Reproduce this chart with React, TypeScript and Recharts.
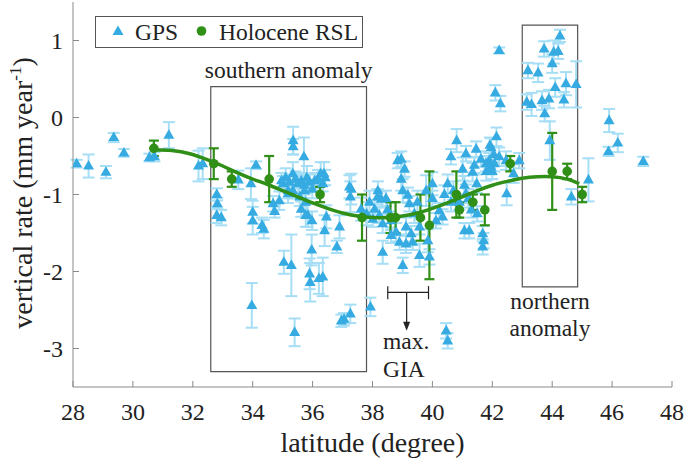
import React from 'react'
import {
  ComposedChart,
  ErrorBar,
  Legend,
  Line,
  ReferenceArea,
  ReferenceDot,
  ReferenceLine,
  Scatter,
  XAxis,
  YAxis
} from 'recharts'

const latitudeTicks = [28, 30, 32, 34, 36, 38, 40, 42, 44, 46, 48]
const rateTicks = [-3, -2, -1, 0, 1]

// GPS stations: [latitude, vertical rate, uncertainty]
const gpsWest = [
  [28.12, -0.6, 0.05], [28.52, -0.63, 0.15], [29.1, -0.71, 0.08], [29.36, -0.26, 0.06],
  [29.7, -0.46, 0.05], [30.55, -0.52, 0.05], [30.72, -0.51, 0.06], [31.2, -0.23, 0.17],
  [32.19, -0.63, 0.2], [32.33, -0.6, 0.2]
]

const gpsSouthern = [
  [32.8, -1.0, 0.08], [32.82, -1.12, 0.07], [32.8, -1.27, 0.1], [32.95, -1.3, 0.1],
  [33.52, -0.81, 0.12], [33.94, -0.86, 0.2], [34.11, -0.62, 0.05], [34.0, -1.23, 0.15],
  [34.0, -1.34, 0.18], [34.31, -1.4, 0.1], [34.37, -1.45, 0.12], [33.97, -2.44, 0.29],
  [34.68, -1.12, 0.1], [34.73, -1.22, 0.08], [34.89, -1.08, 0.12],
  [35.35, -0.3, 0.18], [35.35, -0.38, 0.1], [35.71, -0.51, 0.25],
  [34.96, -0.82, 0.1], [35.1, -0.78, 0.12], [35.23, -0.84, 0.1], [35.34, -0.73, 0.15],
  [35.43, -0.8, 0.1], [35.51, -0.86, 0.12], [35.62, -0.82, 0.1], [35.73, -0.88, 0.12],
  [35.81, -0.78, 0.15], [35.9, -0.84, 0.1], [35.99, -0.93, 0.12], [36.07, -0.82, 0.1],
  [36.18, -0.8, 0.12], [36.38, -0.73, 0.15], [36.34, -0.86, 0.1], [35.73, -0.95, 0.1],
  [35.57, -1.03, 0.12], [35.34, -0.95, 0.1], [35.18, -0.99, 0.12], [35.01, -0.86, 0.1],
  [35.77, -1.1, 0.12], [35.62, -1.19, 0.1], [35.77, -1.27, 0.15], [35.98, -1.34, 0.12],
  [35.18, -0.95, 0.1], [36.27, -0.73, 0.15], [36.42, -0.78, 0.1],
  [35.84, -1.27, 0.15], [36.46, -1.29, 0.15], [36.4, -1.47, 0.2], [35.97, -1.72, 0.2],
  [36.9, -1.42, 0.15], [36.81, -1.68, 0.08], [37.23, -0.9, 0.15], [37.26, -1.03, 0.2],
  [37.62, -1.19, 0.15], [35.04, -1.88, 0.15], [35.29, -1.92, 0.4], [35.9, -2.03, 0.2],
  [35.92, -2.14, 0.25], [36.21, -2.09, 0.2], [36.34, -2.07, 0.25], [35.4, -2.79, 0.18],
  [36.96, -2.64, 0.08], [37.05, -2.62, 0.08], [37.26, -2.55, 0.12]
]

const gpsCentral = [
  [37.93, -2.46, 0.12], [38.18, -0.95, 0.12], [38.29, -1.06, 0.1], [38.07, -1.19, 0.12],
  [38.23, -1.27, 0.1], [38.34, -1.38, 0.12], [38.01, -1.32, 0.1], [38.84, -0.56, 0.1],
  [37.29, -0.93, 0.2], [38.34, -1.75, 0.15], [38.96, -0.54, 0.1], [39.07, -0.67, 0.1],
  [38.96, -0.8, 0.15], [39.01, -0.95, 0.15], [39.18, -1.01, 0.1], [39.23, -1.12, 0.1],
  [38.9, -1.62, 0.1], [39.12, -1.64, 0.12], [39.34, -1.62, 0.1], [39.01, -1.92, 0.1],
  [39.57, -1.79, 0.15], [39.79, -0.95, 0.2], [38.62, -1.34, 0.12], [38.79, -1.49, 0.12],
  [38.62, -1.53, 0.1], [39.12, -1.42, 0.12], [39.29, -1.51, 0.1], [39.57, -1.42, 0.1],
  [37.8, -1.25, 0.15], [37.9, -1.1, 0.15], [38.5, -1.2, 0.1], [38.45, -1.05, 0.1],
  [39.4, -1.25, 0.12], [39.5, -1.1, 0.15], [39.85, -1.6, 0.15], [39.9, -1.81, 0.1],
  [40.0, -0.86, 0.15], [40.0, -1.05, 0.1], [40.12, -1.34, 0.1], [40.23, -1.21, 0.1],
  [40.34, -1.29, 0.1], [40.46, -2.77, 0.1], [40.51, -2.9, 0.1], [38.17, -1.03, 0.1]
]

const gpsEast = [
  [42.23, 0.87, 0.04], [42.1, 0.32, 0.1], [42.27, 0.18, 0.1], [42.14, -0.25, 0.12],
  [41.96, -0.39, 0.12], [41.9, -0.56, 0.1], [42.07, -0.6, 0.1], [41.79, -0.6, 0.1],
  [41.62, -0.54, 0.1], [41.46, -0.41, 0.1], [41.12, -0.47, 0.1], [41.01, -0.67, 0.15],
  [41.34, -0.71, 0.12], [41.48, -0.86, 0.12], [40.62, -0.51, 0.1], [40.81, -0.3, 0.15],
  [40.51, -0.86, 0.12], [41.07, -0.88, 0.12], [41.12, -0.99, 0.12], [40.62, -1.1, 0.12],
  [41.07, -1.47, 0.1], [41.23, -1.47, 0.1], [41.68, -1.51, 0.1], [41.71, -1.6, 0.1],
  [41.68, -1.68, 0.1], [42.48, -0.99, 0.15], [42.71, -0.73, 0.12], [42.9, -0.56, 0.1],
  [42.46, -0.56, 0.12], [42.23, -0.51, 0.12], [41.96, -0.64, 0.1], [41.3, -1.2, 0.1],
  [41.5, -1.25, 0.1], [40.9, -1.1, 0.1], [41.2, -1.05, 0.12], [41.8, -0.7, 0.12],
  [42.0, -0.7, 0.1], [40.7, -0.95, 0.12], [40.4, -1.0, 0.12], [41.4, -0.62, 0.1],
  [42.05, -0.48, 0.1], [41.92, -0.36, 0.1]
]

const gpsNorthern = [
  [43.19, 0.61, 0.1], [43.53, 0.58, 0.12], [43.73, 0.89, 0.1], [44.05, 0.85, 0.15],
  [44.2, 0.86, 0.1], [44.26, 1.06, 0.08], [44.0, 0.7, 0.12], [43.15, 0.2, 0.1],
  [43.31, 0.17, 0.15], [43.66, 0.22, 0.12], [43.89, 0.24, 0.12], [43.75, 0.05, 0.1],
  [44.1, 0.39, 0.12], [44.39, 0.23, 0.1], [44.46, 0.44, 0.15], [44.8, 0.43, 0.3],
  [43.92, -0.3, 0.25], [44.64, -1.03, 0.1], [45.21, -0.81, 0.28], [45.9, -0.04, 0.15],
  [45.88, -0.44, 0.06], [46.19, -0.33, 0.12], [47.04, -0.57, 0.06]
]

// Holocene relative sea-level rates: [latitude, rate, uncertainty]
const rslPoints = [
  [30.7, -0.4, 0.1], [32.7, -0.6, 0.2], [33.3, -0.8, 0.1], [34.55, -0.8, 0.3],
  [36.25, -1.0, 0.1], [37.65, -1.3, 0.3], [38.6, -1.3, 0.2], [38.77, -1.3, 0.2],
  [39.6, -1.3, 0.3], [39.9, -1.4, 0.7], [40.8, -1.0, 0.3], [40.9, -1.2, 0.1],
  [41.35, -1.1, 0.1], [41.75, -1.2, 0.2], [42.6, -0.6, 0.1], [44.0, -0.7, 0.5],
  [44.5, -0.7, 0.1], [45.0, -1.0, 0.1]
]

// fitted trend through the RSL data
const trendLat = [
  30.7, 31.3, 31.9, 32.5, 33.0, 33.5, 34.0, 34.5, 35.0, 35.5, 36.0, 36.5, 37.0, 37.5, 38.0,
  38.5, 39.0, 39.5, 40.0, 40.5, 41.0, 41.5, 42.0, 42.5, 43.0, 43.5, 44.0, 44.5, 44.9
]
const trendRate = [
  -0.42, -0.43, -0.47, -0.55, -0.63, -0.72, -0.8, -0.87, -0.95, -1.03, -1.11, -1.18, -1.24,
  -1.28, -1.3, -1.3, -1.28, -1.24, -1.18, -1.11, -1.03, -0.95, -0.88, -0.83, -0.79, -0.77,
  -0.77, -0.8, -0.86
]

const GPS_BLUE = '#35ABE2'
const GPS_BAR = '#A6DEF5'
const RSL_GREEN = '#2F8F16'
const FRAME = '#8a8a8a'
const INK = '#222'
const FONT = '"Liberation Serif", "Times New Roman", serif'

const toPoints = (rows: number[][]) => rows.map(([x, y, err]) => ({ x, y, err }))
const gpsData = toPoints([...gpsWest, ...gpsSouthern, ...gpsCentral, ...gpsEast, ...gpsNorthern])
const rslData = toPoints(rslPoints)
const trendData = trendLat.map((x, i) => ({ x, y: trendRate[i] }))

function GpsMarker(props: any) {
  const { cx, cy } = props
  if (cx == null || cy == null) return null
  return (
    <path
      d={`M${cx},${cy - 6} L${cx + 5.5},${cy + 3.6} L${cx - 5.5},${cy + 3.6} Z`}
      fill={GPS_BLUE}
    />
  )
}

function RslMarker(props: any) {
  const { cx, cy } = props
  if (cx == null || cy == null) return null
  return <circle cx={cx} cy={cy} r={4.8} fill={RSL_GREEN} />
}

function LegendBox() {
  return (
    <svg width={268} height={32} style={{ display: 'block' }}>
      <rect x={0.5} y={0.5} width={267} height={31} fill="#fff" stroke="#555" />
      <path d="M23,9.5 L28.5,19 L17.5,19 Z" fill={GPS_BLUE} />
      <text x={40} y={23.5} fontSize={23.5} fill={INK} fontFamily={FONT}>GPS</text>
      <circle cx={106.5} cy={15} r={4.8} fill={RSL_GREEN} />
      <text x={124} y={23.5} fontSize={23.5} fill={INK} fontFamily={FONT}>Holocene RSL</text>
    </svg>
  )
}

function TextBlock(lines: string[], anchor: 'start' | 'middle', gap = 27.5) {
  return (props: any) => {
    const { cx, cy } = props
    if (cx == null || cy == null) return null
    return (
      <g>
        {lines.map((t, i) => (
          <text key={t} x={cx} y={cy + i * gap} textAnchor={anchor} fontSize={23.5} fill={INK} fontFamily={FONT}>
            {t}
          </text>
        ))}
      </g>
    )
  }
}

function ArrowHead(props: any) {
  const { cx, cy } = props
  if (cx == null || cy == null) return null
  return <path d={`M${cx},${cy} L${cx - 3.5},${cy - 9} L${cx + 3.5},${cy - 9} Z`} fill={INK} />
}

function XTitle(props: any) {
  const vb = props.viewBox || {}
  return (
    <text x={vb.x + vb.width / 2} y={452} textAnchor="middle" fontSize={28} fill={INK} fontFamily={FONT}>
      latitude (degree)
    </text>
  )
}

function YTitle(props: any) {
  const vb = props.viewBox || {}
  const cx = 32
  const cy = vb.y + vb.height / 2 - 1.5
  return (
    <text x={cx} y={cy} transform={`rotate(-90, ${cx}, ${cy})`} textAnchor="middle" fontSize={28} fill={INK} fontFamily={FONT}>
      vertical rate (mm year
      <tspan fontSize={17} dy={-11}>-1</tspan>
      <tspan dy={11}>)</tspan>
    </text>
  )
}

const tickStyle = { fontSize: 24, fill: INK, fontFamily: FONT }

export default function App() {
  return (
    <div style={{ position: 'absolute', left: 0, top: 0, width: 685, height: 462, background: '#fff', fontFamily: FONT }}>
      <ComposedChart width={685} height={462} margin={{ top: 2, right: 13, bottom: 0, left: 0 }}>
        <XAxis
          dataKey="x"
          type="number"
          domain={[28, 48]}
          ticks={latitudeTicks}
          interval={0}
          allowDataOverflow
          stroke={FRAME}
          tickSize={-6}
          tickMargin={22}
          tick={tickStyle}
          height={75}
          label={{ content: XTitle }}
        />
        <XAxis
          xAxisId="top"
          orientation="top"
          type="number"
          domain={[28, 48]}
          ticks={latitudeTicks}
          interval={0}
          allowDataOverflow
          stroke={FRAME}
          tickSize={-6}
          tick={false}
          height={0}
        />
        <YAxis
          dataKey="y"
          type="number"
          domain={[-3.5, 1.5]}
          ticks={rateTicks}
          interval={0}
          allowDataOverflow
          stroke={FRAME}
          tickSize={-6}
          tickMargin={16}
          tick={tickStyle}
          width={73}
          label={{ content: YTitle }}
        />
        <YAxis
          yAxisId="right"
          orientation="right"
          type="number"
          domain={[-3.5, 1.5]}
          ticks={rateTicks}
          interval={0}
          allowDataOverflow
          stroke={FRAME}
          tickSize={-6}
          tick={false}
          width={0}
        />

        <ReferenceArea x1={32.6} x2={37.8} y1={-3.3} y2={0.4} fill="none" fillOpacity={0} stroke="#555" strokeWidth={1.2} />
        <ReferenceArea x1={43.0} x2={44.85} y1={-2.2} y2={1.2} fill="none" fillOpacity={0} stroke="#555" strokeWidth={1.2} />

        <Scatter data={gpsData} shape={GpsMarker} isAnimationActive={false} name="GPS">
          <ErrorBar dataKey="err" direction="y" width={6} stroke={GPS_BAR} strokeWidth={2} />
        </Scatter>

        <Line
          data={trendData}
          dataKey="y"
          type="natural"
          dot={false}
          activeDot={false}
          stroke={RSL_GREEN}
          strokeWidth={3.5}
          isAnimationActive={false}
          zIndex={650}
        />

        <Scatter data={rslData} shape={RslMarker} isAnimationActive={false} name="Holocene RSL" zIndex={700}>
          <ErrorBar dataKey="err" direction="y" width={5} stroke={RSL_GREEN} strokeWidth={2.2} />
        </Scatter>

        <ReferenceDot x={35.2} y={0.51} r={0} shape={TextBlock(['southern anomaly'], 'middle')} />
        <ReferenceDot x={43.925} y={-2.484} r={0} shape={TextBlock(['northern', 'anomaly'], 'middle')} />
        <ReferenceDot x={38.35} y={-3.01} r={0} shape={TextBlock(['max.', 'GIA'], 'start')} />

        <ReferenceLine segment={[{ x: 38.51, y: -2.27 }, { x: 39.87, y: -2.27 }]} stroke={INK} strokeWidth={1.2} />
        <ReferenceLine segment={[{ x: 38.51, y: -2.19 }, { x: 38.51, y: -2.36 }]} stroke={INK} strokeWidth={1.2} />
        <ReferenceLine segment={[{ x: 39.87, y: -2.19 }, { x: 39.87, y: -2.36 }]} stroke={INK} strokeWidth={1.2} />
        <ReferenceLine segment={[{ x: 39.14, y: -2.27 }, { x: 39.14, y: -2.7 }]} stroke={INK} strokeWidth={1.2} />
        <ReferenceDot x={39.14} y={-2.77} r={0} shape={ArrowHead} />

        <Legend
          layout="vertical"
          align="center"
          verticalAlign="middle"
          wrapperStyle={{ left: 95, top: 16, width: 268, height: 32 }}
          content={() => <LegendBox />}
        />
      </ComposedChart>
    </div>
  )
}
